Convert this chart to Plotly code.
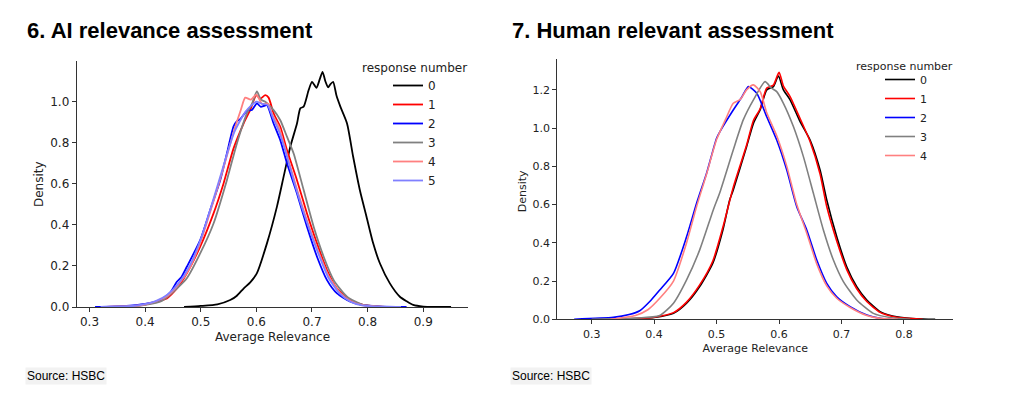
import plotly.graph_objects as go

# ---------------- Data: AI relevance assessment (chart 6) ----------------
AI_X0 = [0.47, 0.50, 0.53, 0.553, 0.565, 0.577, 0.589, 0.601, 0.619, 0.637, 0.649, 0.661, 0.673, 0.679,
         0.685, 0.694, 0.700, 0.708, 0.714, 0.719, 0.724, 0.729, 0.733, 0.738, 0.744, 0.751, 0.763, 0.774,
         0.786, 0.798, 0.810, 0.822, 0.840, 0.858, 0.870, 0.882, 0.900, 0.925, 0.95]
AI_Y0 = [0.0, 0.005, 0.013, 0.034, 0.055, 0.09, 0.12, 0.165, 0.31, 0.489, 0.635, 0.781, 0.894, 0.968,
         0.976, 1.057, 1.097, 1.068, 1.11, 1.146, 1.10, 1.07, 1.085, 1.097, 1.03, 0.976, 0.894, 0.732,
         0.57, 0.44, 0.31, 0.213, 0.115, 0.05, 0.028, 0.01, 0.002, 0.0005, 0.0]

AI_X1 = [0.33, 0.38, 0.40, 0.42, 0.439, 0.457, 0.475, 0.499, 0.523, 0.541, 0.559, 0.577, 0.589, 0.600,
         0.607, 0.616, 0.622, 0.631, 0.643, 0.655, 0.673, 0.691, 0.709, 0.727, 0.745, 0.769, 0.792, 0.82, 0.85]
AI_Y1 = [0.0, 0.005, 0.012, 0.025, 0.042, 0.09, 0.164, 0.294, 0.456, 0.602, 0.773, 0.894, 0.96, 1.032,
         1.015, 1.032, 1.02, 0.943, 0.878, 0.765, 0.618, 0.456, 0.31, 0.18, 0.09, 0.034, 0.01, 0.002, 0.0]

AI_X2 = [0.31, 0.36, 0.40, 0.427, 0.445, 0.457, 0.465, 0.475, 0.499, 0.517, 0.535, 0.547, 0.559, 0.565,
         0.571, 0.583, 0.592, 0.601, 0.608, 0.614, 0.619, 0.631, 0.643, 0.655, 0.673, 0.691, 0.709, 0.727,
         0.745, 0.769, 0.79, 0.82, 0.87]
AI_Y2 = [0.0, 0.004, 0.015, 0.034, 0.07, 0.123, 0.145, 0.196, 0.326, 0.472, 0.618, 0.748, 0.88, 0.905,
         0.915, 0.955, 0.96, 0.992, 0.975, 0.98, 0.984, 0.894, 0.813, 0.70, 0.553, 0.391, 0.245, 0.131,
         0.066, 0.026, 0.01, 0.003, 0.0]

AI_X3 = [0.33, 0.38, 0.40, 0.43, 0.457, 0.475, 0.499, 0.523, 0.547, 0.565, 0.583, 0.592, 0.601, 0.608,
         0.616, 0.631, 0.643, 0.655, 0.667, 0.685, 0.703, 0.721, 0.739, 0.763, 0.792, 0.82, 0.86]
AI_Y3 = [0.0, 0.004, 0.01, 0.03, 0.09, 0.14, 0.261, 0.407, 0.618, 0.797, 0.943, 0.99, 1.05, 1.01,
         1.0, 0.959, 0.91, 0.83, 0.748, 0.57, 0.391, 0.245, 0.131, 0.05, 0.01, 0.002, 0.0]

AI_X4 = [0.33, 0.38, 0.40, 0.42, 0.44, 0.46, 0.48, 0.50, 0.52, 0.54, 0.56, 0.572, 0.58, 0.59, 0.60,
         0.61, 0.62, 0.63, 0.64, 0.65, 0.67, 0.69, 0.71, 0.73, 0.75, 0.77, 0.79, 0.82, 0.85]
AI_Y4 = [0.0, 0.005, 0.013, 0.028, 0.055, 0.11, 0.19, 0.32, 0.49, 0.67, 0.86, 0.96, 1.02, 1.01, 1.035,
         0.99, 0.99, 0.93, 0.88, 0.79, 0.6, 0.43, 0.28, 0.15, 0.07, 0.028, 0.009, 0.002, 0.0]

AI_X5 = [0.32, 0.38, 0.40, 0.42, 0.44, 0.46, 0.48, 0.50, 0.52, 0.54, 0.56, 0.58, 0.59, 0.60, 0.61,
         0.62, 0.63, 0.64, 0.65, 0.67, 0.69, 0.71, 0.73, 0.75, 0.77, 0.79, 0.82, 0.86]
AI_Y5 = [0.0, 0.005, 0.014, 0.03, 0.06, 0.115, 0.2, 0.33, 0.5, 0.68, 0.85, 0.95, 0.98, 1.0, 0.99,
         0.985, 0.92, 0.86, 0.78, 0.59, 0.42, 0.27, 0.14, 0.065, 0.025, 0.008, 0.002, 0.0]

# ---------------- Data: Human relevant assessment (chart 7) ----------------
HU_X0 = [0.33, 0.383, 0.40, 0.431, 0.452, 0.473, 0.494, 0.510, 0.521, 0.5267, 0.548, 0.559, 0.5696,
         0.5803, 0.591, 0.599, 0.607, 0.6177, 0.6337, 0.6497, 0.6657, 0.6764, 0.6924, 0.7084, 0.7244,
         0.7405, 0.7618, 0.78, 0.80, 0.82, 0.85]
HU_Y0 = [0.0, 0.005, 0.009, 0.031, 0.084, 0.171, 0.293, 0.466, 0.624, 0.676, 0.903, 1.025, 1.095,
         1.2, 1.217, 1.273, 1.2, 1.148, 1.034, 0.938, 0.781, 0.624, 0.432, 0.275, 0.171,
         0.101, 0.04, 0.019, 0.008, 0.003, 0.0]

HU_X1 = [0.33, 0.383, 0.40, 0.431, 0.452, 0.473, 0.494, 0.510, 0.5267, 0.548, 0.559, 0.5696, 0.5803,
         0.591, 0.600, 0.607, 0.6177, 0.6337, 0.6497, 0.6657, 0.6764, 0.6924, 0.7084, 0.7244, 0.7405,
         0.7618, 0.78, 0.80, 0.83]
HU_Y1 = [0.0, 0.006, 0.011, 0.035, 0.09, 0.18, 0.305, 0.48, 0.69, 0.91, 1.04, 1.10, 1.21,
         1.225, 1.292, 1.22, 1.165, 1.05, 0.93, 0.76, 0.59, 0.41, 0.26, 0.16, 0.093,
         0.036, 0.016, 0.006, 0.0]

HU_X2 = [0.272, 0.3346, 0.36, 0.377, 0.395, 0.409, 0.431, 0.452, 0.468, 0.484, 0.500, 0.5054, 0.5267,
         0.540, 0.551, 0.5643, 0.5803, 0.5963, 0.6124, 0.6284, 0.6444, 0.6604, 0.6764, 0.6924, 0.7138,
         0.7405, 0.7618, 0.78]
HU_Y2 = [0.0, 0.01, 0.025, 0.045, 0.1, 0.153, 0.24, 0.432, 0.607, 0.764, 0.947, 0.982, 1.095,
         1.16, 1.217, 1.182, 1.06, 0.938, 0.781, 0.589, 0.467, 0.31, 0.188, 0.118, 0.066,
         0.022, 0.005, 0.0]

HU_X3 = [0.30, 0.37, 0.409, 0.431, 0.452, 0.473, 0.4947, 0.5054, 0.5267, 0.5427, 0.559, 0.5776, 0.588,
         0.5963, 0.607, 0.623, 0.639, 0.655, 0.671, 0.687, 0.703, 0.7244, 0.751, 0.78, 0.81]
HU_Y3 = [0.0, 0.006, 0.02, 0.084, 0.206, 0.363, 0.572, 0.665, 0.886, 1.043, 1.148, 1.243, 1.209,
         1.191, 1.13, 1.008, 0.851, 0.659, 0.467, 0.31, 0.197, 0.101, 0.031, 0.008, 0.0]

HU_X4 = [0.33, 0.37, 0.39, 0.409, 0.431, 0.452, 0.468, 0.484, 0.500, 0.515, 0.5267, 0.538, 0.548,
         0.559, 0.570, 0.5803, 0.5963, 0.6124, 0.6284, 0.6444, 0.6604, 0.6764, 0.6924, 0.7138, 0.7405,
         0.7618, 0.79]
HU_Y4 = [0.0, 0.02, 0.05, 0.11, 0.2, 0.4, 0.59, 0.76, 0.94, 1.05, 1.13, 1.15, 1.2,
         1.226, 1.19, 1.08, 0.96, 0.8, 0.6, 0.45, 0.29, 0.175, 0.11, 0.062, 0.02,
         0.005, 0.0]

SERIES_NAMES = ["0", "1", "2", "3", "4", "5"]
COLORS = ["#000000", "#ff0000", "#0000ff", "#808080", "#ff8080", "#8080ff"]

AI_X_TICKS = [0.3, 0.4, 0.5, 0.6, 0.7, 0.8, 0.9]
AI_Y_TICKS = [0.0, 0.2, 0.4, 0.6, 0.8, 1.0]
HU_X_TICKS = [0.3, 0.4, 0.5, 0.6, 0.7, 0.8]
HU_Y_TICKS = [0.0, 0.2, 0.4, 0.6, 0.8, 1.0, 1.2]

TITLE_LEFT = "6. AI relevance assessment"
TITLE_RIGHT = "7. Human relevant assessment"
SOURCE = "Source: HSBC"
X_LABEL = "Average Relevance"
Y_LABEL = "Density"
LEGEND_TITLE = "response number"

# The page body has an 8px margin, so the figure is drawn at (8, 8).
OFF = 8
W, H = 1024 - OFF, 396 - OFF
FONT = "DejaVu Sans, sans-serif"

fig = go.Figure()

ai_xs = [AI_X0, AI_X1, AI_X2, AI_X3, AI_X4, AI_X5]
ai_ys = [AI_Y0, AI_Y1, AI_Y2, AI_Y3, AI_Y4, AI_Y5]
for i, (xs, ys) in enumerate(zip(ai_xs, ai_ys)):
    fig.add_trace(go.Scatter(x=xs, y=ys, mode="lines", name=SERIES_NAMES[i],
                             line=dict(color=COLORS[i], width=1.8, shape="spline", smoothing=0.6),
                             xaxis="x", yaxis="y", legend="legend"))

hu_xs = [HU_X0, HU_X1, HU_X2, HU_X3, HU_X4]
hu_ys = [HU_Y0, HU_Y1, HU_Y2, HU_Y3, HU_Y4]
for i, (xs, ys) in enumerate(zip(hu_xs, hu_ys)):
    fig.add_trace(go.Scatter(x=xs, y=ys, mode="lines", name=SERIES_NAMES[i],
                             line=dict(color=COLORS[i], width=1.6, shape="spline", smoothing=0.6),
                             xaxis="x2", yaxis="y2", legend="legend2"))

def px_x(p):
    return (p - OFF) / W

def px_y(p):
    return 1 - (p - OFF) / H

axis_common = dict(showline=True, linecolor="#333333", linewidth=1, ticks="outside", ticklen=4,
                   tickcolor="#333333", tickwidth=1, showgrid=False, zeroline=False,
                   tickformat=".1f", color="#222222", automargin=False)

fig.update_layout(
    width=W, height=H,
    margin=dict(l=0, r=0, t=0, b=0, autoexpand=False),
    paper_bgcolor="white", plot_bgcolor="white",
    font=dict(family=FONT, size=12, color="#222222"),
    showlegend=True,
    xaxis=dict(domain=[px_x(76.7), px_x(468.3)], range=[0.277, 0.981], tickvals=AI_X_TICKS,
               anchor="y", title=dict(text=X_LABEL, font=dict(size=12), standoff=4),
               tickfont=dict(size=12), **axis_common),
    yaxis=dict(domain=[px_y(307), px_y(60.7)], range=[0, 1.2], tickvals=AI_Y_TICKS,
               anchor="x", tickfont=dict(size=12), **axis_common),
    xaxis2=dict(domain=[px_x(557.3), px_x(953.3)], range=[0.245, 0.879], tickvals=HU_X_TICKS,
                anchor="y2", title=dict(text=X_LABEL, font=dict(size=11), standoff=4),
                tickfont=dict(size=11), **axis_common),
    yaxis2=dict(domain=[px_y(319.3), px_y(59.3)], range=[0, 1.36], tickvals=HU_Y_TICKS,
                anchor="x2", tickfont=dict(size=11), **axis_common),
    legend=dict(xref="container", yref="container", x=px_x(388), y=px_y(71),
                xanchor="left", yanchor="top", bgcolor="rgba(0,0,0,0)",
                font=dict(family=FONT, size=12, color="#222222"), itemwidth=30,
                tracegroupgap=0),
    legend2=dict(xref="container", yref="container", x=px_x(880), y=px_y(65),
                 xanchor="left", yanchor="top", bgcolor="rgba(0,0,0,0)",
                 font=dict(family=FONT, size=11, color="#222222"), itemwidth=30,
                 tracegroupgap=0),
)

annotations = [
    dict(text="<b>" + TITLE_LEFT + "</b>", x=px_x(25), y=px_y(45), xref="paper", yref="paper",
         xanchor="left", yanchor="bottom", showarrow=False,
         font=dict(family="Liberation Sans, Arial, sans-serif", size=22, color="#000000")),
    dict(text="<b>" + TITLE_RIGHT + "</b>", x=px_x(510), y=px_y(45), xref="paper", yref="paper",
         xanchor="left", yanchor="bottom", showarrow=False,
         font=dict(family="Liberation Sans, Arial, sans-serif", size=22, color="#000000")),
    dict(text=SOURCE, x=px_x(25), y=px_y(376), xref="paper", yref="paper",
         xanchor="left", yanchor="middle", showarrow=False, bgcolor="#f2f2f2", borderpad=1,
         font=dict(family="Liberation Sans, Arial, sans-serif", size=12, color="#000000")),
    dict(text=SOURCE, x=px_x(510), y=px_y(376), xref="paper", yref="paper",
         xanchor="left", yanchor="middle", showarrow=False, bgcolor="#f2f2f2", borderpad=1,
         font=dict(family="Liberation Sans, Arial, sans-serif", size=12, color="#000000")),
    dict(text=LEGEND_TITLE, x=px_x(414), y=px_y(68), xref="paper", yref="paper",
         xanchor="center", yanchor="middle", showarrow=False,
         font=dict(family=FONT, size=12, color="#222222")),
    dict(text=LEGEND_TITLE, x=px_x(904.5), y=px_y(66), xref="paper", yref="paper",
         xanchor="center", yanchor="middle", showarrow=False,
         font=dict(family=FONT, size=11, color="#222222")),
    dict(text=Y_LABEL, x=px_x(39), y=px_y(184), xref="paper", yref="paper", textangle=-90,
         xanchor="center", yanchor="middle", showarrow=False,
         font=dict(family=FONT, size=12, color="#222222")),
    dict(text=Y_LABEL, x=px_x(522.7), y=px_y(191.5), xref="paper", yref="paper", textangle=-90,
         xanchor="center", yanchor="middle", showarrow=False,
         font=dict(family=FONT, size=11, color="#222222")),
]
fig.update_layout(annotations=annotations)

fig.write_html("out.html")
